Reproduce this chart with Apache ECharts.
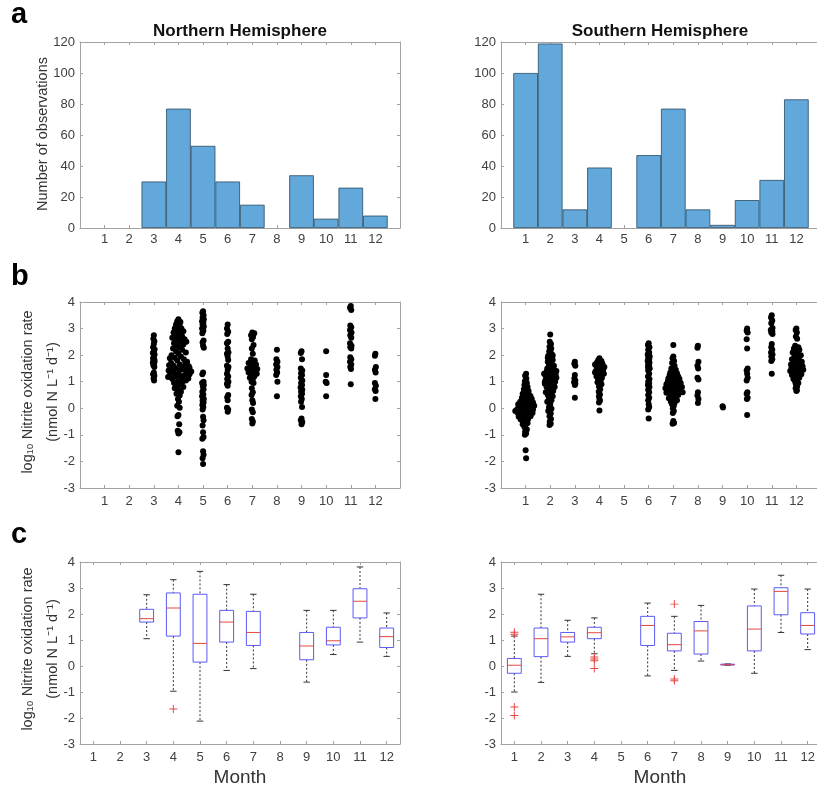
<!DOCTYPE html>
<html>
<head>
<meta charset="utf-8">
<title>Nitrite oxidation rate by month</title>
<script src="https://cdn.jsdelivr.net/npm/echarts@6/dist/echarts.min.js"></script>
<style>
  html, body { margin: 0; padding: 0; background: #fff; }
  #chart { width: 817px; height: 790px; }
</style>
</head>
<body>
<div id="chart"></div>
<script>
// ---- data ----
const months = ["1", "2", "3", "4", "5", "6", "7", "8", "9", "10", "11", "12"];

// a: number of observations per month
const nhCountMonths = [3, 4, 5, 6, 7, 9, 10, 11, 12];
const nhCounts = [30, 77, 53, 30, 15, 34, 6, 26, 8];
const shCountMonths = [1, 2, 3, 4, 6, 7, 8, 9, 10, 11, 12];
const shCounts = [100, 119, 12, 39, 47, 77, 12, 2, 18, 31, 83];

// b: individual rates, [jittered month, log10 rate]
const nhPoints = [
  [3.00,2.75],[2.98,2.62],[3.02,2.52],[3.00,2.42],[2.97,2.30],[3.03,2.22],[3.00,2.15],[2.96,2.08],[3.03,2.02],[3.00,1.95],
  [2.97,1.88],[3.02,1.84],[2.99,1.80],[3.03,1.76],[2.96,1.72],[3.01,1.68],[2.98,1.62],[3.02,1.55],[3.00,1.35],[2.97,1.28],
  [3.02,1.22],[2.99,1.12],[3.01,1.05],
  [4.00,3.35],[3.95,3.28],[4.08,3.25],[3.90,3.15],[4.05,3.10],[3.85,3.00],[4.12,3.00],[3.98,2.95],[4.20,2.90],[3.80,2.85],
  [4.05,2.80],[3.92,2.75],[4.15,2.70],[3.75,2.65],[4.00,2.60],[4.25,2.60],[3.88,2.55],[4.10,2.50],[3.82,2.45],[4.20,2.40],
  [3.95,2.35],[4.05,2.30],[3.78,2.25],[4.15,2.20],[3.90,2.15],[4.30,2.10],[4.00,2.05],[3.72,2.00],[4.10,1.95],[3.85,1.90],
  [4.22,1.85],[3.95,1.80],[4.35,1.75],[3.70,1.70],[4.05,1.65],[3.80,1.60],[4.42,1.58],[4.20,1.55],[3.90,1.50],[3.68,1.48],
  [4.10,1.45],[4.30,1.40],[3.80,1.35],[4.00,1.30],[4.45,1.28],[3.65,1.25],[4.20,1.22],[3.88,1.20],[4.10,1.15],[3.75,1.10],
  [4.30,1.05],[3.95,1.00],[4.15,0.98],[3.82,0.95],[4.05,0.90],[3.90,0.85],[4.20,0.80],[3.85,0.75],[4.00,0.70],[4.10,0.62],
  [3.92,0.55],[4.05,0.48],[3.98,0.35],[4.02,0.25],[3.95,0.10],[4.05,0.02],[4.00,-0.25],[3.96,-0.30],[4.03,-0.60],[3.97,-0.85],
  [4.04,-0.90],[4.00,-0.95],[4.00,-1.65],[4.45,1.52],[3.60,1.42],[3.62,1.62],[4.38,1.30],[4.40,1.12],[4.28,1.72],[3.65,1.88],
  [4.32,2.50],[3.85,2.70],[4.00,2.90],[3.58,1.18],[4.52,1.38],
  [5.00,3.65],[4.97,3.60],[5.02,3.50],[4.98,3.42],[5.03,3.35],[4.96,3.28],[5.01,3.22],[4.98,3.15],[5.03,3.08],[4.96,3.00],
  [5.01,2.92],[4.97,2.82],[5.02,2.55],[4.98,2.48],[5.00,2.35],[5.03,2.28],[5.00,1.35],[4.97,1.28],[5.02,1.00],[4.96,0.95],
  [5.03,0.88],[4.99,0.82],[5.02,0.72],[4.97,0.62],[5.01,0.52],[4.96,0.45],[5.03,0.35],[4.98,0.28],[5.02,0.22],[4.97,0.12],
  [5.01,0.05],[4.98,-0.05],[5.00,-0.32],[5.02,-0.45],[4.98,-0.65],[5.00,-0.90],[5.02,-1.08],[4.97,-1.15],[5.00,-1.62],[5.02,-1.75],
  [4.98,-1.88],[5.00,-2.10],
  [6.00,3.15],[5.97,3.00],[6.02,2.88],[5.98,2.80],[6.02,2.50],[5.97,2.45],[6.00,2.25],[6.03,2.10],[5.97,2.05],[6.00,1.95],
  [6.02,1.82],[5.97,1.60],[6.03,1.55],[6.00,1.45],[5.97,1.30],[6.02,1.20],[5.98,1.10],[6.03,1.00],[5.97,0.92],[6.00,0.85],
  [6.02,0.50],[5.98,0.42],[6.00,0.30],[5.97,0.02],[6.02,-0.05],[6.00,-0.13],
  [7.00,2.85],[7.08,2.82],[6.95,2.75],[7.03,2.68],[6.98,2.60],[7.05,2.38],[6.98,2.25],[7.02,2.05],[6.95,1.85],[7.10,1.80],
  [7.00,1.75],[6.85,1.70],[7.15,1.65],[6.95,1.60],[7.05,1.55],[6.80,1.50],[7.20,1.48],[6.92,1.45],[7.10,1.42],[7.00,1.38],
  [6.85,1.35],[7.18,1.30],[6.95,1.25],[7.08,1.20],[6.90,1.15],[7.02,1.10],[6.97,1.00],[7.05,0.95],[6.98,0.75],[7.02,0.60],
  [6.97,0.50],[7.00,0.30],[7.03,0.20],[6.98,-0.05],[7.02,-0.15],[6.98,-0.40],[7.02,-0.50],[7.00,-0.57],
  [8.00,2.20],[7.98,1.85],[8.02,1.75],[7.97,1.65],[8.02,1.55],[7.98,1.45],[8.01,1.35],[7.97,1.25],[8.02,1.00],[8.00,0.45],
  [9.00,2.15],[8.97,2.08],[9.02,1.85],[8.97,1.50],[9.03,1.42],[8.98,1.32],[9.02,1.25],[8.97,1.15],[9.03,1.05],[8.98,0.95],
  [9.02,0.88],[8.96,0.78],[9.03,0.70],[8.98,0.62],[9.02,0.55],[8.97,0.45],[9.01,0.35],[8.98,0.25],[9.02,0.05],[9.00,-0.38],
  [8.97,-0.45],[9.03,-0.52],[9.00,-0.60],
  [10.00,2.15],[10.00,1.25],[9.98,1.00],[10.02,0.95],[10.00,0.45],
  [11.00,3.85],[10.97,3.78],[11.02,3.70],[10.98,3.12],[11.02,3.05],[10.97,2.95],[11.03,2.85],[10.98,2.75],[11.02,2.65],[10.97,2.45],
  [11.03,2.35],[10.98,2.30],[11.02,2.25],[10.98,1.92],[11.02,1.85],[10.97,1.75],[11.02,1.65],[10.98,1.55],[11.01,1.48],[11.00,0.90],
  [12.00,2.05],[11.98,1.98],[12.02,1.55],[11.98,1.45],[12.01,1.35],[11.98,0.95],[12.02,0.85],[11.98,0.72],[12.01,0.65],[12.00,0.35]
];

const shPoints = [
  [1.02,1.30],[0.98,1.22],[1.03,1.12],[0.97,1.02],[1.05,0.95],[0.95,0.88],[1.08,0.80],[0.93,0.72],[1.12,0.65],[1.00,0.60],
  [0.88,0.55],[1.15,0.50],[0.95,0.48],[1.20,0.45],[0.85,0.40],[1.05,0.38],[1.25,0.35],[0.90,0.30],[1.10,0.28],[0.78,0.25],
  [1.30,0.22],[1.00,0.20],[0.82,0.18],[1.18,0.15],[0.92,0.12],[1.35,0.10],[0.72,0.08],[1.08,0.05],[0.85,0.02],[1.22,0.00],
  [0.95,-0.02],[0.65,-0.05],[1.15,-0.08],[0.58,-0.10],[1.02,-0.12],[0.88,-0.15],[1.28,-0.18],[0.75,-0.20],[1.10,-0.22],[0.95,-0.25],
  [0.82,-0.28],[1.20,-0.30],[1.00,-0.33],[0.90,-0.36],[1.10,-0.40],[0.80,-0.42],[1.02,-0.45],[0.92,-0.50],[1.08,-0.55],[0.88,-0.60],
  [1.00,-0.62],[0.95,-0.70],[1.05,-0.80],[0.98,-0.88],[1.02,-0.95],[0.97,-1.00],[1.00,-1.58],[1.02,-1.88],
  [1.15,0.30],[0.78,0.05],[1.30,-0.05],[0.70,0.15],[1.05,0.42],[0.68,-0.18],[0.95,0.25],[0.72,-0.32],[1.08,0.55],[1.02,0.70],
  [2.00,2.78],[1.98,2.50],[2.03,2.42],[1.97,2.32],[2.04,2.25],[1.96,2.15],[2.05,2.05],[1.92,1.98],[2.08,1.92],[1.98,1.88],
  [2.10,1.82],[1.90,1.75],[2.05,1.70],[1.95,1.62],[2.12,1.55],[1.88,1.50],[2.02,1.45],[2.18,1.42],[1.85,1.38],[2.08,1.35],
  [1.95,1.30],[2.22,1.28],[1.80,1.25],[2.05,1.20],[1.92,1.18],[2.15,1.15],[1.82,1.10],[2.00,1.05],[2.20,1.00],[1.88,0.98],
  [2.10,0.95],[1.78,0.92],[1.98,0.88],[2.15,0.85],[1.85,0.80],[2.05,0.75],[1.92,0.70],[2.12,0.65],[1.82,0.60],[2.02,0.55],
  [1.90,0.50],[2.10,0.45],[1.95,0.38],[2.05,0.30],[1.88,0.25],[2.00,0.15],[1.95,0.05],[2.05,-0.02],[1.92,-0.10],[2.02,-0.20],
  [1.97,-0.30],[2.03,-0.40],[1.98,-0.50],[2.02,-0.58],[1.97,-0.63],
  [2.25,1.40],[1.75,1.30],[2.25,1.15],[2.15,1.60],[1.78,1.00],[1.90,1.90],[2.10,2.00],[2.18,0.80],
  [3.00,1.75],[2.98,1.68],[3.02,1.60],[3.00,1.25],[2.98,1.12],[3.02,1.05],[2.97,0.98],[3.02,0.92],[3.00,0.88],[3.00,0.40],
  [4.00,1.88],[3.95,1.82],[4.08,1.78],[3.90,1.72],[4.12,1.68],[4.00,1.62],[3.88,1.58],[4.10,1.52],[3.95,1.48],[4.15,1.45],
  [3.85,1.40],[4.05,1.38],[3.92,1.32],[4.18,1.30],[4.00,1.25],[3.88,1.20],[4.10,1.15],[3.95,1.10],[4.05,1.05],[3.92,0.98],
  [4.08,0.90],[3.98,0.82],[4.03,0.72],[3.97,0.62],[4.02,0.52],[3.98,0.45],[4.00,0.35],[4.02,0.28],[3.98,0.22],[4.00,-0.08],
  [4.20,1.55],[3.82,1.35],[3.82,1.65],
  [6.00,2.45],[5.97,2.38],[6.03,2.30],[5.98,2.20],[6.02,2.10],[5.96,2.02],[6.04,1.95],[5.98,1.90],[6.02,1.85],[5.96,1.78],
  [6.03,1.72],[5.98,1.65],[6.02,1.60],[5.97,1.55],[6.04,1.50],[5.98,1.42],[6.02,1.30],[5.97,1.20],[6.03,1.10],[5.98,1.00],
  [6.02,0.95],[5.97,0.88],[6.03,0.80],[5.98,0.70],[6.02,0.60],[5.98,0.50],[6.02,0.40],[5.98,0.30],[6.00,0.15],[6.02,0.05],
  [5.98,-0.05],[6.00,-0.38],
  [7.00,2.38],[7.00,1.95],[6.97,1.88],[7.03,1.78],[6.95,1.70],[7.05,1.60],[6.92,1.50],[7.10,1.45],[6.98,1.40],[6.88,1.35],
  [7.15,1.32],[7.02,1.28],[6.85,1.25],[7.20,1.20],[6.95,1.18],[7.10,1.15],[6.80,1.12],[7.25,1.10],[7.00,1.05],[6.78,1.02],
  [7.15,1.00],[6.90,0.98],[7.30,0.95],[7.05,0.92],[6.72,0.90],[6.95,0.88],[7.22,0.85],[6.85,0.82],[7.35,0.80],[7.08,0.78],
  [6.68,0.75],[6.98,0.72],[7.28,0.70],[6.80,0.68],[7.12,0.65],[6.92,0.62],[7.38,0.60],[6.72,0.58],[7.05,0.55],[6.88,0.52],
  [7.20,0.50],[6.95,0.45],[7.10,0.42],[6.82,0.38],[7.02,0.35],[7.15,0.30],[6.90,0.25],[7.05,0.20],[6.95,0.15],[7.02,0.10],
  [6.98,0.00],[7.02,-0.10],[6.98,-0.18],[7.00,-0.48],[7.03,-0.55],[6.97,-0.58],
  [8.00,2.35],[7.98,2.28],[8.02,1.75],[7.98,1.60],[8.01,1.50],[7.98,1.15],[8.02,1.08],[8.00,0.60],[7.98,0.48],[8.02,0.35],
  [8.00,0.20],
  [9.00,0.08],[9.02,0.03],
  [10.00,3.00],[9.98,2.92],[10.02,2.85],[9.98,2.60],[10.00,2.25],[10.02,1.50],[9.98,1.42],[10.00,1.30],[10.02,1.15],[9.98,1.05],
  [10.01,0.60],[9.98,0.55],[10.02,0.40],[9.99,0.35],[10.00,-0.25],
  [11.00,3.50],[10.97,3.42],[11.02,3.30],[10.98,3.20],[11.03,3.02],[10.96,2.95],[11.02,2.90],[10.98,2.85],[11.03,2.80],[11.00,2.42],
  [10.98,2.30],[11.02,2.20],[10.97,2.10],[11.03,2.02],[10.98,1.95],[11.02,1.85],[10.98,1.78],[11.00,1.30],
  [12.00,3.00],[11.97,2.95],[12.02,2.85],[11.98,2.70],[12.03,2.62],[11.95,2.35],[12.08,2.30],[11.90,2.25],[12.12,2.20],[11.98,2.15],
  [11.85,2.10],[12.05,2.05],[12.18,2.00],[11.92,1.95],[12.10,1.90],[11.82,1.85],[12.00,1.80],[12.22,1.75],[11.88,1.72],[12.08,1.68],
  [11.78,1.65],[12.15,1.62],[11.95,1.60],[12.25,1.58],[12.02,1.55],[11.80,1.52],[12.12,1.50],[11.90,1.48],[12.28,1.45],[12.00,1.42],
  [11.75,1.40],[12.18,1.38],[11.88,1.35],[12.08,1.32],[11.95,1.30],[12.20,1.28],[11.82,1.25],[12.05,1.22],[11.92,1.20],[12.12,1.15],
  [11.88,1.10],[12.02,1.05],[11.95,1.00],[12.08,0.95],[11.98,0.90],[12.03,0.82],[11.97,0.75],[12.02,0.68],[12.00,0.65]
];

// c: box plot summaries, [month index (0 = Jan), lower whisker, Q1, median, Q3, upper whisker]
const nhBoxes = [
  [2, 1.05, 1.69, 1.82, 2.18, 2.74],
  [3, -0.97, 1.15, 2.23, 2.81, 3.32],
  [4, -2.12, 0.15, 0.87, 2.76, 3.64],
  [5, -0.17, 0.92, 1.69, 2.14, 3.13],
  [6, -0.10, 0.79, 1.29, 2.10, 2.76],
  [8, -0.62, 0.24, 0.77, 1.29, 2.14],
  [9, 0.44, 0.81, 0.97, 1.49, 2.14],
  [10, 0.92, 1.85, 2.49, 2.97, 3.81],
  [11, 0.37, 0.71, 1.13, 1.46, 2.04]
];
const nhOutliers = [[3, -1.65]];

const shBoxes = [
  [0, -1.00, -0.28, 0.03, 0.29, 1.15],
  [1, -0.63, 0.36, 1.05, 1.46, 2.76],
  [2, 0.37, 0.92, 1.12, 1.29, 1.76],
  [3, 0.47, 1.05, 1.28, 1.49, 1.85],
  [5, -0.38, 0.79, 1.56, 1.91, 2.42],
  [6, -0.17, 0.58, 0.82, 1.26, 1.91],
  [7, 0.19, 0.46, 1.35, 1.71, 2.33],
  [8, 0.03, 0.04, 0.05, 0.07, 0.08],
  [9, -0.28, 0.58, 1.42, 2.31, 2.96],
  [10, 1.29, 1.97, 2.87, 3.01, 3.49],
  [11, 0.63, 1.23, 1.56, 2.05, 2.96]
];
const shOutliers = [
  [0, 1.30], [0, 1.22], [0, -1.58], [0, -1.90],
  [3, 0.35], [3, 0.27], [3, 0.20], [3, -0.10],
  [6, 2.38], [6, -0.50], [6, -0.57]
];

// ---- styling ----
const FONT = '"Liberation Sans", Arial, Helvetica, sans-serif';
const AXIS_COLOR = "#a3a3a3";
const LABEL_COLOR = "#404040";
const NAME_COLOR = "#333";

const grids = [
  { left: 80, top: 42, width: 320, height: 186 },   // a NH
  { left: 501, top: 42, width: 320, height: 186 },  // a SH
  { left: 80, top: 302, width: 320, height: 186 },  // b NH
  { left: 501, top: 302, width: 320, height: 186 }, // b SH
  { left: 80, top: 562, width: 320, height: 182 },  // c NH
  { left: 501, top: 562, width: 320, height: 182 }  // c SH
].map((g) => Object.assign({ outerBoundsMode: "none", containLabel: false }, g));

const xAxes = [];
const yAxes = [];

const lineStyle = { color: AXIS_COLOR, width: 1 };
const tickStyle = { show: true, inside: true, length: 3, lineStyle: lineStyle };

function addMonthValueAxes(gridIndex, labelMargin) {
  const base = {
    type: "value",
    gridIndex,
    min: 0,
    max: 13,
    interval: 1,
    axisLine: { show: true, onZero: false, lineStyle },
    axisTick: tickStyle,
    splitLine: { show: false },
  };
  xAxes.push(Object.assign({}, base, {
    position: "bottom",
    axisLabel: {
      color: LABEL_COLOR,
      fontFamily: FONT,
      fontSize: 13,
      margin: labelMargin,
      formatter: (v) => (v >= 1 && v <= 12 ? String(v) : ""),
    },
  }));
  xAxes.push(Object.assign({}, base, { position: "top", axisLabel: { show: false } }));
  return xAxes.length - 2;
}

function addMonthCategoryAxes(gridIndex) {
  const base = {
    type: "category",
    gridIndex,
    data: months,
    boundaryGap: true,
    axisLine: { show: true, onZero: false, lineStyle },
    axisTick: Object.assign({ alignWithLabel: true }, tickStyle),
    splitLine: { show: false },
  };
  xAxes.push(Object.assign({}, base, {
    position: "bottom",
    axisLabel: { color: LABEL_COLOR, fontFamily: FONT, fontSize: 13, margin: 7 },
  }));
  xAxes.push(Object.assign({}, base, { position: "top", axisLabel: { show: false } }));
  return xAxes.length - 2;
}

function addValueYAxes(gridIndex, min, max, interval) {
  const base = {
    type: "value",
    gridIndex,
    min,
    max,
    interval,
    axisLine: { show: true, onZero: false, lineStyle },
    axisTick: tickStyle,
    splitLine: { show: false },
  };
  yAxes.push(Object.assign({}, base, {
    position: "left",
    axisLabel: { color: LABEL_COLOR, fontFamily: FONT, fontSize: 13, margin: 5 },
  }));
  yAxes.push(Object.assign({}, base, { position: "right", axisLabel: { show: false } }));
  return yAxes.length - 2;
}

const axA1x = addMonthValueAxes(0, 5), axA1y = addValueYAxes(0, 0, 120, 20);
const axA2x = addMonthValueAxes(1, 5), axA2y = addValueYAxes(1, 0, 120, 20);
const axB1x = addMonthValueAxes(2, 7), axB1y = addValueYAxes(2, -3, 4, 1);
const axB2x = addMonthValueAxes(3, 7), axB2y = addValueYAxes(3, -3, 4, 1);
const axC1x = addMonthCategoryAxes(4), axC1y = addValueYAxes(4, -3, 4, 1);
const axC2x = addMonthCategoryAxes(5), axC2y = addValueYAxes(5, -3, 4, 1);

function histSeries(xi, yi, monthsList, counts) {
  return {
    type: "bar",
    xAxisIndex: xi,
    yAxisIndex: yi,
    data: monthsList.map((m, i) => [m, counts[i]]),
    barWidth: "100%",
    itemStyle: { color: "#62a8da", borderColor: "#2a4a62", borderWidth: 0.8 },
    silent: true,
  };
}

function dotSeries(xi, yi, pts) {
  return {
    type: "scatter",
    xAxisIndex: xi,
    yAxisIndex: yi,
    data: pts,
    symbolSize: 6,
    itemStyle: { color: "#000", opacity: 1 },
    silent: true,
  };
}

function renderBox(params, api) {
  const x = api.value(0);
  const lo = api.coord([x, api.value(1)]);
  const q1 = api.coord([x, api.value(2)]);
  const med = api.coord([x, api.value(3)]);
  const q3 = api.coord([x, api.value(4)]);
  const hi = api.coord([x, api.value(5)]);
  const band = api.size([1, 0])[0];
  const hw = band * 0.26;
  const cw = band * 0.12;
  const cx = med[0];
  const dashed = { stroke: "#333", lineWidth: 1, lineDash: [2, 2] };
  const solid = { stroke: "#333", lineWidth: 1 };
  return {
    type: "group",
    children: [
      { type: "line", shape: { x1: cx, y1: hi[1], x2: cx, y2: q3[1] }, style: dashed },
      { type: "line", shape: { x1: cx, y1: q1[1], x2: cx, y2: lo[1] }, style: dashed },
      { type: "line", shape: { x1: cx - cw, y1: hi[1], x2: cx + cw, y2: hi[1] }, style: solid },
      { type: "line", shape: { x1: cx - cw, y1: lo[1], x2: cx + cw, y2: lo[1] }, style: solid },
      {
        type: "rect",
        shape: { x: cx - hw, y: q3[1], width: 2 * hw, height: q1[1] - q3[1] },
        style: { fill: "none", stroke: "#5a5af5", lineWidth: 1 },
      },
      { type: "line", shape: { x1: cx - hw, y1: med[1], x2: cx + hw, y2: med[1] }, style: { stroke: "#e5483f", lineWidth: 1 } },
    ],
  };
}

function boxSeries(xi, yi, boxes) {
  return {
    type: "custom",
    xAxisIndex: xi,
    yAxisIndex: yi,
    data: boxes,
    encode: { x: 0, y: [1, 2, 3, 4, 5] },
    renderItem: renderBox,
    silent: true,
  };
}

const PLUS = "path://M4.4,0H5.6V4.4H10V5.6H5.6V10H4.4V5.6H0V4.4H4.4Z";

function outlierSeries(xi, yi, pts) {
  return {
    type: "scatter",
    xAxisIndex: xi,
    yAxisIndex: yi,
    data: pts,
    symbol: PLUS,
    symbolSize: 8,
    itemStyle: { color: "#e5483f", opacity: 1 },
    silent: true,
  };
}

// text labels placed around the panels
const rateLine1 = "log\u2081\u2080 Nitrite oxidation rate";
const rateLine2 = "(nmol N L\u207B\u00B9 d\u207B\u00B9)";

function label(text, x, y, font, fill, rotated) {
  return {
    type: "text",
    x,
    y,
    rotation: rotated ? Math.PI / 2 : 0,
    silent: true,
    style: { text, font, fill, align: rotated || x > 100 ? "center" : "left", verticalAlign: "middle" },
  };
}

const nameFont = "14.5px " + FONT;
const letterFont = "bold 29px " + FONT;
const titleFont = "bold 17px " + FONT;
const monthFont = "19px " + FONT;

const chart = echarts.init(document.getElementById("chart"), null, { renderer: "canvas" });

chart.setOption({
  backgroundColor: "#fff",
  animation: false,
  textStyle: { fontFamily: FONT },
  grid: grids,
  xAxis: xAxes,
  yAxis: yAxes,
  graphic: [
    label("a", 11, 15, letterFont, "#000", false),
    label("b", 11, 277, letterFont, "#000", false),
    label("c", 11, 535, letterFont, "#000", false),
    label("Northern Hemisphere", 240, 31, titleFont, "#111", false),
    label("Southern Hemisphere", 660, 31, titleFont, "#111", false),
    label("Number of observations", 43, 134, nameFont, NAME_COLOR, true),
    label(rateLine1, 28, 392, nameFont, NAME_COLOR, true),
    label(rateLine2, 53, 392, nameFont, NAME_COLOR, true),
    label(rateLine1, 28, 649, nameFont, NAME_COLOR, true),
    label(rateLine2, 53, 649, nameFont, NAME_COLOR, true),
    label("Month", 240, 778, monthFont, NAME_COLOR, false),
    label("Month", 660, 778, monthFont, NAME_COLOR, false),
  ],
  series: [
    histSeries(axA1x, axA1y, nhCountMonths, nhCounts),
    histSeries(axA2x, axA2y, shCountMonths, shCounts),
    dotSeries(axB1x, axB1y, nhPoints),
    dotSeries(axB2x, axB2y, shPoints),
    boxSeries(axC1x, axC1y, nhBoxes),
    outlierSeries(axC1x, axC1y, nhOutliers),
    boxSeries(axC2x, axC2y, shBoxes),
    outlierSeries(axC2x, axC2y, shOutliers),
  ],
});
</script>
</body>
</html>
